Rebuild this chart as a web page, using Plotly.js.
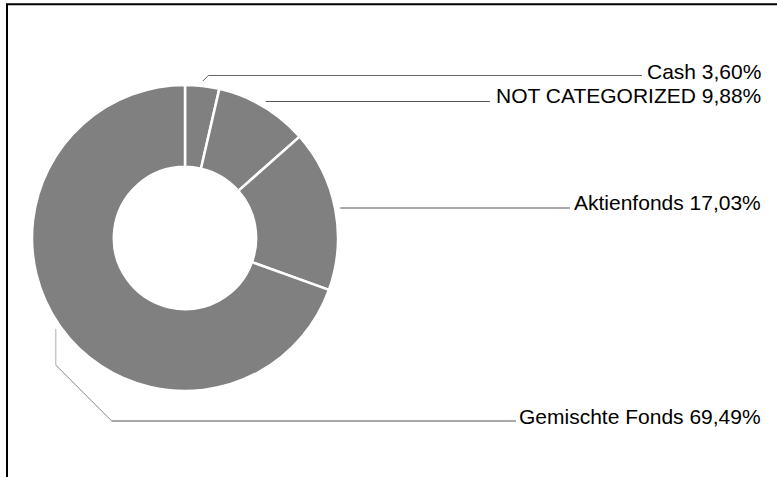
<!DOCTYPE html>
<html>
<head>
<meta charset="utf-8">
<script src="https://cdn.plot.ly/plotly-3.0.1.min.js"></script>
<style>
html,body{margin:0;padding:0;background:#fff;}
#chart{width:777px;height:477px;}
</style>
</head>
<body>
<div id="chart"></div>
<script>
// ---- data ----
const categories = ["Cash", "NOT CATEGORIZED", "Aktienfonds", "Gemischte Fonds"];
const values = [3.60, 9.88, 17.03, 69.49];

// ---- layout helpers (pixel layout, not data) ----
const W = 777, H = 477;
const cx = 185, cy = 238, R = 153;      // pie centre / radius in px
const holeFrac = 0.465;
const leaderR = 158;                   // where leader lines start
const labelLineY = [75.5, 101.5, 208, 421];
const lineEndX = [642, 490, 570, 516];
const labelY = [71.5, 95, 202, 416];
const labelRightX = 763;

const px = x => x / W;
const py = y => 1 - y / H;

// leader start points computed from the data (mid-angle of each slice)
const total = values.reduce((a, b) => a + b, 0);
let cum = 0;
const starts = values.map(v => {
  const mid = (cum + v / 2) / total * 2 * Math.PI;
  cum += v;
  return [cx + leaderR * Math.sin(mid), cy - leaderR * Math.cos(mid)];
});

function pathOf(points) {
  return points.map((p, i) => (i ? "L" : "M") + px(p[0]).toFixed(5) + "," + py(p[1]).toFixed(5)).join(" ");
}
function seg(points, color, width) {
  shapes.push({type: "path", xref: "paper", yref: "paper",
    path: pathOf(points), line: {color: color, width: width}});
}

const shapes = [];
// frame
shapes.push({type: "rect", xref: "paper", yref: "paper",
  x0: px(7), x1: 1.05, y0: -0.05, y1: py(4.3),
  line: {color: "#000", width: 2}, fillcolor: "rgba(0,0,0,0)"});

starts.forEach((s, i) => {
  const ly = labelLineY[i];
  if (s[1] < ly - 20) {
    // far above label line: down vertically, then diagonal, then horizontal
    const elbowY = ly - 56;
    const diagEnd = [s[0] + (ly - elbowY), ly];
    seg([s, [s[0], elbowY]], "#c8c8c8", 1.5);
    seg([[s[0], elbowY], diagEnd], "#8a8a8a", 1);
    seg([diagEnd, [lineEndX[i], ly]], "#555", 1);
  } else if (Math.abs(s[1] - ly) > 2) {
    const d = Math.abs(s[1] - ly);
    seg([s, [s[0] + d, ly], [lineEndX[i], ly]], "#666", 1);
  } else {
    seg([[s[0], ly], [lineEndX[i], ly]], "#555", 1);
  }
});

const annotations = categories.map((c, i) => ({
  xref: "paper", yref: "paper",
  x: px(labelRightX), y: py(labelY[i]),
  xanchor: "right", yanchor: "middle",
  text: c + " " + values[i].toFixed(2).replace(".", ",") + "%",
  showarrow: false,
  font: {family: "Liberation Sans, Arial, sans-serif", size: 21, color: "#000"}
}));

const trace = {
  type: "pie",
  labels: categories,
  values: values,
  sort: false,
  direction: "clockwise",
  rotation: 0,
  hole: holeFrac,
  textinfo: "none",
  hoverinfo: "none",
  showlegend: false,
  marker: {colors: categories.map(() => "#808080"), line: {color: "#ffffff", width: 2.5}},
  domain: {x: [px(cx - R), px(cx + R)], y: [py(cy + R), py(cy - R)]}
};

const layout = {
  width: W, height: H,
  margin: {l: 0, r: 0, t: 0, b: 0},
  paper_bgcolor: "#fff",
  plot_bgcolor: "#fff",
  showlegend: false,
  shapes: shapes,
  annotations: annotations
};

Plotly.newPlot("chart", [trace], layout, {staticPlot: true, displayModeBar: false});
</script>
</body>
</html>
